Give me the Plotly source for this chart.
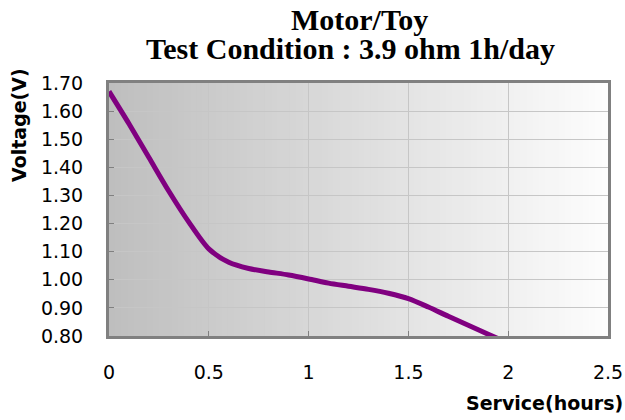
import plotly.graph_objects as go

# Data
service_hours = [0.0, 0.1, 0.2, 0.3, 0.4, 0.5, 0.6, 0.7, 0.8, 0.9, 1.0,
                 1.1, 1.2, 1.3, 1.4, 1.5, 1.6, 1.7, 1.8, 1.9, 2.0]
voltage = [1.670, 1.555, 1.435, 1.315, 1.205, 1.110, 1.062, 1.040, 1.028, 1.017, 1.003,
           0.988, 0.977, 0.966, 0.952, 0.933, 0.903, 0.870, 0.838, 0.806, 0.775]

x_ticks = [0, 0.5, 1, 1.5, 2, 2.5]
x_tick_labels = ["0", "0.5", "1", "1.5", "2", "2.5"]
y_ticks = [0.8, 0.9, 1.0, 1.1, 1.2, 1.3, 1.4, 1.5, 1.6, 1.7]
y_tick_labels = ["0.80", "0.90", "1.00", "1.10", "1.20", "1.30", "1.40", "1.50", "1.60", "1.70"]

title_line1 = "Motor/Toy"
title_line2 = "Test Condition : 3.9 ohm 1h/day"
y_title = "Voltage(V)"
x_title = "Service(hours)"

fig = go.Figure()
fig.add_trace(go.Scatter(
    x=service_hours, y=voltage, mode="lines",
    line=dict(color="#800080", width=5, shape="spline", smoothing=0.8),
    showlegend=False, hoverinfo="skip",
))

# Gradient background (grey on the left fading to white on the right)
n = 80
shapes = []
c0, c1 = 190, 253
for i in range(n):
    t = (i + 0.5) / n
    c = int(round(c0 + (c1 - c0) * t))
    shapes.append(dict(type="rect", xref="paper", yref="paper",
                       x0=i / n, x1=(i + 1) / n + 0.002, y0=0, y1=1,
                       fillcolor=f"rgb({c},{c},{c})", line=dict(width=0),
                       layer="below"))

tick_font = dict(family="DejaVu Sans", size=19, color="#000000")
title_font = dict(family="Liberation Serif", size=30, color="#000000")
label_font = dict(family="DejaVu Sans", size=19, color="#000000")

fig.update_layout(
    width=625, height=420,
    margin=dict(l=109, r=17, t=83, b=84),
    paper_bgcolor="#ffffff",
    plot_bgcolor="#ffffff",
    shapes=shapes,
    xaxis=dict(
        range=[0, 2.5], tickmode="array", tickvals=x_ticks, ticktext=x_tick_labels,
        showgrid=True, gridcolor="#c6c6c6", gridwidth=1,
        ticks="inside", ticklen=5, tickcolor="#808080", tickwidth=1,
        showline=True, linecolor="#808080", linewidth=3, mirror=True,
        tickfont=tick_font, ticklabelstandoff=17, zeroline=False, automargin=False,
    ),
    yaxis=dict(
        range=[0.8, 1.7], tickmode="array", tickvals=y_ticks, ticktext=y_tick_labels,
        showgrid=True, gridcolor="#c6c6c6", gridwidth=1,
        ticks="inside", ticklen=5, tickcolor="#808080", tickwidth=1,
        showline=True, linecolor="#808080", linewidth=3, mirror=True,
        tickfont=tick_font, ticklabelstandoff=19, zeroline=False, automargin=False,
    ),
    annotations=[
        dict(text=f"<b>{title_line1}</b>", xref="paper", yref="paper",
             x=0.502, y=1, yshift=64, xanchor="center", yanchor="middle",
             showarrow=False, font=title_font),
        dict(text=f"<b>{title_line2}</b>", xref="paper", yref="paper",
             x=0.484, y=1, yshift=35, xanchor="center", yanchor="middle",
             showarrow=False, font=title_font),
        dict(text=f"<b>{y_title}</b>", xref="paper", yref="paper",
             x=0, xshift=-90.5, y=1, yshift=-42.5, xanchor="center", yanchor="middle",
             textangle=-90, showarrow=False, font=label_font),
        dict(text=f"<b>{x_title}</b>", xref="paper", yref="paper",
             x=1, xshift=17, y=0, yshift=-67, xanchor="right", yanchor="middle",
             showarrow=False, font=label_font),
    ],
)

fig.write_html("out.html", config={"displayModeBar": False},
               post_script="document.body.style.margin='0px';")
